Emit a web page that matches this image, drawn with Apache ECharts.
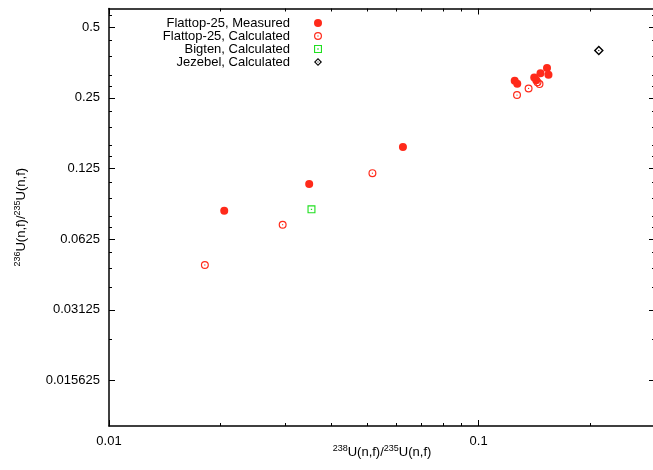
<!DOCTYPE html>
<html>
<head>
<meta charset="utf-8">
<script src="https://cdn.jsdelivr.net/npm/echarts@6/dist/echarts.min.js"></script>
<style>
html,body{margin:0;padding:0;background:#fff;}
#chart{width:653px;height:470px;}
</style>
</head>
<body>
<div id="chart"></div>
<script>
// ---- data ----
const measuredX = [0.0205, 0.0348, 0.0624, 0.1252, 0.1272, 0.1414, 0.1432, 0.1470, 0.1531, 0.1545];
const measuredY = [0.0826, 0.1073, 0.1542, 0.2951, 0.2868, 0.3050, 0.2966, 0.3183, 0.3345, 0.3132];
const calcX = [0.01817, 0.0295, 0.0516, 0.1270, 0.1365, 0.1443, 0.1461];
const calcY = [0.0485, 0.0720, 0.1194, 0.2568, 0.2739, 0.2911, 0.2859];
const bigtenX = [0.0353];
const bigtenY = [0.0837];
const jezebelX = [0.2114];
const jezebelY = [0.3975];

const seriesNames = ['Flattop-25, Measured', 'Flattop-25, Calculated', 'Bigten, Calculated', 'Jezebel, Calculated'];

// ---- axis ticks ----
const xMajorTicks = [0.01, 0.1];
const xMajorLabels = ['0.01', '0.1'];
const xMinorTicks = [0.02, 0.03, 0.04, 0.05, 0.06, 0.07, 0.08, 0.09, 0.2, 0.3];
const yMajorTicks = [0.015625, 0.03125, 0.0625, 0.125, 0.25, 0.5];
const yMajorLabels = ['0.015625', '0.03125', '0.0625', '0.125', '0.25', '0.5'];
const yMinorTicks = [0.5625, 0.4375, 0.375, 0.3125, 0.28125, 0.21875, 0.1875, 0.15625, 0.140625,
  0.109375, 0.09375, 0.078125, 0.0703125, 0.0546875, 0.046875, 0.0390625, 0.0234375];
const xRange = [0.01, 0.3];
const yRange = [0.01, 0.6];

function zip(a, b) { return a.map((v, i) => [v, b[i]]); }
function nearestLabel(ticks, labels, v) {
  let best = 0, bd = Infinity;
  ticks.forEach((t, i) => { const d = Math.abs(Math.log(t) - Math.log(v)); if (d < bd) { bd = d; best = i; } });
  return labels[best];
}

const FONT = 'Liberation Sans, Arial, Helvetica, sans-serif';
const RED = '#ff2a1a';
const GREEN = '#20e020';
const BLACK = '#000000';

// symbols: ring with center dot (filled path, nonzero rule)
const ringCircle = 'path://M0,5A5,5 0 1,0 10,5A5,5 0 1,0 0,5Z M1.5,5A3.5,3.5 0 1,1 8.5,5A3.5,3.5 0 1,1 1.5,5Z M4.2,5A0.8,0.8 0 1,0 5.8,5A0.8,0.8 0 1,0 4.2,5Z';
const ringSquare = 'path://M0,0L10,0L10,10L0,10Z M1.4,1.4L1.4,8.6L8.6,8.6L8.6,1.4Z M4.2,4.2L5.8,4.2L5.8,5.8L4.2,5.8Z';
const ringDiamond = 'path://M5,0L10,5L5,10L0,5Z M5,2L2,5L5,8L8,5Z M4.2,5L5,4.2L5.8,5L5,5.8Z';

const supRich = {
  s: { fontSize: 9, lineHeight: 9, verticalAlign: 'top', fontFamily: FONT, color: '#000' },
  t: { fontSize: 13, lineHeight: 16, fontFamily: FONT, color: '#000' }
};

function xAxisCfg(position, major, withLabels) {
  return {
    type: 'log', logBase: 10, min: xRange[0], max: xRange[1], position: position,
    axisLine: { show: major, onZero: false, lineStyle: { color: '#000', width: 1.5 } },
    axisTick: { show: true, inside: true, length: major ? 6 : 3, customValues: major ? xMajorTicks : xMinorTicks,
      lineStyle: { color: '#000', width: 1 } },
    axisLabel: withLabels ? {
      show: true, customValues: xMajorTicks, margin: 9, color: '#000', fontSize: 13, fontFamily: FONT,
      formatter: v => nearestLabel(xMajorTicks, xMajorLabels, v)
    } : { show: false },
    splitLine: { show: false }, minorTick: { show: false }
  };
}
function yAxisCfg(position, major, withLabels) {
  return {
    type: 'log', logBase: 2, min: yRange[0], max: yRange[1], position: position,
    axisLine: { show: major, onZero: false, lineStyle: { color: '#000', width: 1.5 } },
    axisTick: { show: true, inside: true, length: major ? 6 : 3, customValues: major ? yMajorTicks : yMinorTicks,
      lineStyle: { color: '#000', width: 1 } },
    axisLabel: withLabels ? {
      show: true, customValues: yMajorTicks, margin: 9, color: '#000', fontSize: 13, fontFamily: FONT,
      formatter: v => nearestLabel(yMajorTicks, yMajorLabels, v)
    } : { show: false },
    splitLine: { show: false }, minorTick: { show: false }
  };
}

const xMain = xAxisCfg('bottom', true, true);
xMain.name = '{s|238}{t|U(n,f)/}{s|235}{t|U(n,f)}';
xMain.nameLocation = 'middle';
xMain.nameGap = 18;
xMain.nameMoveOverlap = false;
xMain.nameTextStyle = { rich: supRich };

const yMain = yAxisCfg('left', true, true);
yMain.name = '{s|236}{t|U(n,f)/}{s|235}{t|U(n,f)}';
yMain.nameLocation = 'middle';
yMain.nameGap = 80;
yMain.nameMoveOverlap = false;
yMain.nameTextStyle = { rich: supRich };

const option = {
  animation: false,
  backgroundColor: '#ffffff',
  grid: { left: 109, top: 8.5, right: -2, bottom: 44, containLabel: false, outerBoundsMode: 'none' },
  xAxis: [xMain, xAxisCfg('top', true, false), xAxisCfg('bottom', false, false), xAxisCfg('top', false, false)],
  yAxis: [yMain, yAxisCfg('right', true, false), yAxisCfg('left', false, false), yAxisCfg('right', false, false)],
  legend: {
    orient: 'vertical', align: 'right', right: 331, top: 16.5, padding: 0, itemGap: 0,
    itemWidth: 8, itemHeight: 8,
    textStyle: { fontSize: 13, lineHeight: 13, fontFamily: FONT, color: '#000', padding: [0, 19, 0, 0] },
    data: seriesNames
  },
  series: [
    { name: seriesNames[0], type: 'scatter', symbol: 'circle', symbolSize: 8,
      itemStyle: { color: RED, opacity: 1 }, data: zip(measuredX, measuredY) },
    { name: seriesNames[1], type: 'scatter', symbol: ringCircle, symbolSize: 8,
      itemStyle: { color: RED, opacity: 1 }, data: zip(calcX, calcY) },
    { name: seriesNames[2], type: 'scatter', symbol: ringSquare, symbolSize: 8,
      itemStyle: { color: GREEN, opacity: 1 }, data: zip(bigtenX, bigtenY) },
    { name: seriesNames[3], type: 'scatter', symbol: ringDiamond, symbolSize: 10,
      itemStyle: { color: BLACK, opacity: 1 }, data: zip(jezebelX, jezebelY) }
  ]
};

const chart = echarts.init(document.getElementById('chart'), null, { renderer: 'canvas' });
chart.setOption(option);
</script>
</body>
</html>
